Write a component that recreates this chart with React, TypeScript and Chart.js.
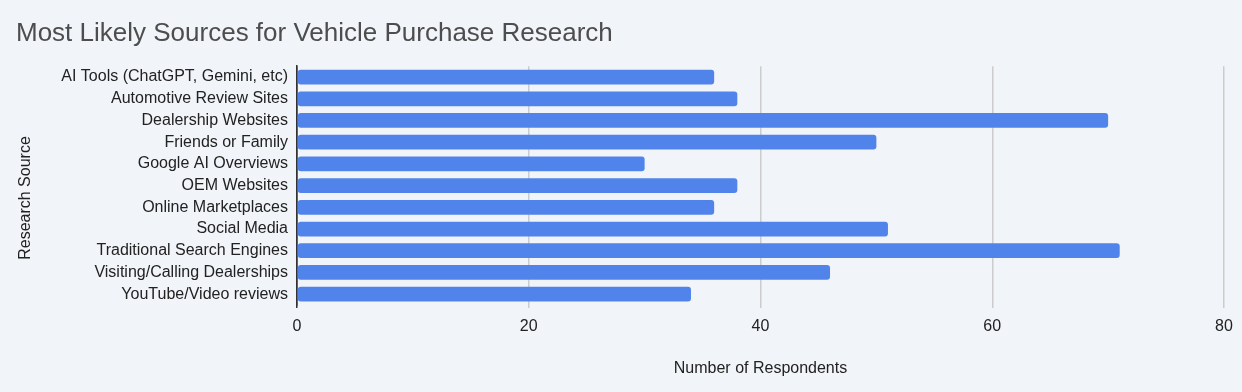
import React, { useEffect, useRef } from "react";
import { Chart, registerables } from "chart.js";

Chart.register(...registerables);

const categories = [
  "AI Tools (ChatGPT, Gemini, etc)",
  "Automotive Review Sites",
  "Dealership Websites",
  "Friends or Family",
  "Google AI Overviews",
  "OEM Websites",
  "Online Marketplaces",
  "Social Media",
  "Traditional Search Engines",
  "Visiting/Calling Dealerships",
  "YouTube/Video reviews",
];
const respondents = [36, 38, 70, 50, 30, 38, 36, 51, 71, 46, 34];
const xTicks = [0, 20, 40, 60, 80];
const yTitle = "Research Source";

const FONT = "'Liberation Sans', Arial, sans-serif";

const yTitlePlugin = {
  id: "yTitlePlugin",
  afterDraw(chart: any) {
    const ctx = chart.ctx;
    ctx.save();
    ctx.translate(26, 198);
    ctx.rotate(-Math.PI / 2);
    ctx.font = `16px ${FONT}`;
    ctx.fillStyle = "#222222";
    ctx.textAlign = "center";
    ctx.textBaseline = "middle";
    ctx.fillText(yTitle, 0, 0);
    ctx.restore();
  },
};

export default function App() {
  const ref = useRef<HTMLCanvasElement | null>(null);
  useEffect(() => {
    document.body.style.margin = "0";
    const chart = new Chart(ref.current!, {
      type: "bar",
      data: {
        labels: categories,
        datasets: [
          {
            data: respondents,
            backgroundColor: "#5184EB",
            borderRadius: 3,
            borderSkipped: false,
            barPercentage: 0.68,
            categoryPercentage: 1,
          },
        ],
      },
      plugins: [yTitlePlugin],
      options: {
        indexAxis: "y",
        animation: false,
        responsive: true,
        maintainAspectRatio: false,
        layout: { padding: { left: 16, right: 18, top: 0, bottom: 14 } },
        plugins: {
          legend: { display: false },
          tooltip: { enabled: false },
          title: {
            display: true,
            text: "Most Likely Sources for Vehicle Purchase Research",
            align: "start",
            color: "#4D4D4D",
            font: { family: FONT, size: 26, weight: "normal" },
            padding: { top: 18, bottom: 17 },
          },
        },
        scales: {
          x: {
            min: 0,
            max: 80,
            afterBuildTicks: (s: any) => {
              s.ticks = xTicks.map((v) => ({ value: v }));
            },
            afterFit: (s: any) => {
              s.height = 73;
            },
            ticks: {
              color: "#222222",
              font: { family: FONT, size: 16 },
              padding: 9,
              autoSkip: false,
            },
            grid: {
              color: (c: any) => (c.index === 0 ? "#333333" : "#CCCCCC"),
              lineWidth: 1.5,
              tickLength: 3,
            },
            border: { display: false },
            title: {
              display: true,
              text: "Number of Respondents",
              color: "#222222",
              font: { family: FONT, size: 16 },
              padding: { top: 20, bottom: 0 },
            },
          },
          y: {
            afterFit: (s: any) => {
              s.width = 297 - 16;
            },
            ticks: {
              color: "#222222",
              font: { family: FONT, size: 16 },
              padding: 9,
              autoSkip: false,
            },
            grid: { display: false, drawTicks: false },
            border: { display: true, color: "#333333", width: 1.5 },
          },
        },
      },
    });
    return () => chart.destroy();
  }, []);
  return (
    <div
      style={{
        position: "absolute",
        left: 0,
        top: 0,
        width: 1242,
        height: 392,
        background: "#F1F4F9",
      }}
    >
      <canvas ref={ref} />
    </div>
  );
}
